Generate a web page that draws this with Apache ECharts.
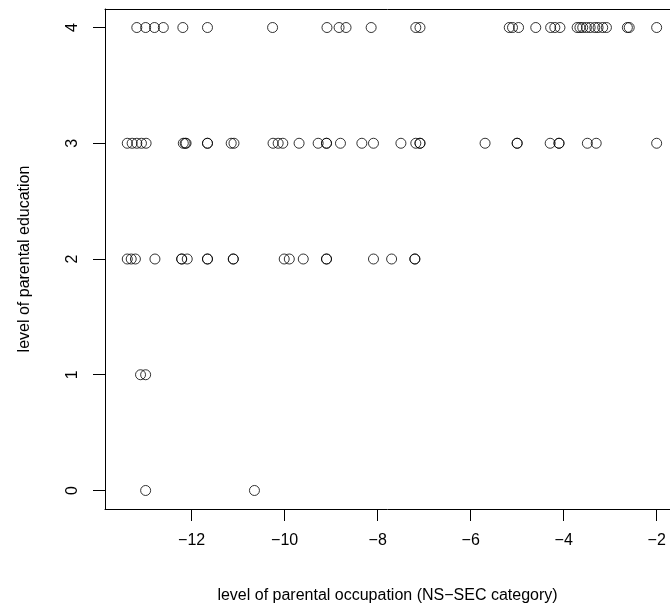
<!DOCTYPE html>
<html>
<head>
<meta charset="utf-8">
<script src="https://cdn.jsdelivr.net/npm/echarts@6/dist/echarts.min.js"></script>
<style>
html,body{margin:0;padding:0;background:#fff;}
#chart{width:670px;height:612px;}
</style>
</head>
<body>
<div id="chart"></div>
<script>
// parental occupation values (NS-SEC, negated) for each level of parental education
var occEdu4 = [-13.18, -12.99, -12.80, -12.61, -12.19, -11.66, -10.26, -9.09, -8.83, -8.68, -8.14,
  -7.18, -7.09, -5.17, -5.10, -4.97, -4.60, -4.28, -4.19, -4.08, -3.71, -3.65, -3.59, -3.51,
  -3.43, -3.33, -3.26, -3.16, -3.08, -2.63, -2.59, -2.00];
var occEdu3 = [-13.385, -13.28, -13.18, -13.08, -12.98, -12.18, -12.14, -12.12, -11.66, -11.66,
  -11.15, -11.09, -10.25, -10.14, -10.04, -9.69, -9.28, -9.10, -9.10, -8.80, -8.34, -8.09, -7.50,
  -7.18, -7.09, -7.09, -5.69, -5.00, -5.00, -4.29, -4.10, -4.10, -3.49, -3.30, -2.00];
var occEdu2 = [-13.385, -13.30, -13.21, -12.79, -12.215, -12.215, -12.095, -11.66, -11.66,
  -11.105, -11.105, -10.01, -9.90, -9.60, -9.10, -9.10, -8.09, -7.70, -7.20, -7.20];
var occEdu1 = [-13.10, -12.99];
var occEdu0 = [-12.99, -10.65];
var eduLevels = [4, 3, 2, 1, 0];
var xTicks = [-12, -10, -8, -6, -4, -2];
var yTicks = [0, 1, 2, 3, 4];
var xTitle = 'level of parental occupation (NS\u2212SEC category)';
var yTitle = 'level of parental education';

var groups = [occEdu4, occEdu3, occEdu2, occEdu1, occEdu0];
var points = [];
groups.forEach(function (arr, i) {
  arr.forEach(function (x) { points.push([x, eduLevels[i]]); });
});

function fmt(v) { return v < 0 ? '\u2212' + Math.abs(v) : String(v); }

var chart = echarts.init(document.getElementById('chart'), null, {renderer: 'canvas'});
var font = '"Liberation Sans", Arial, Helvetica, sans-serif';
var xMin = -13.864, xMax = -1.713;
chart.setOption({
  animation: false,
  grid: {left: 105, top: 9, right: 0, height: 500, show: false},
  xAxis: [{
    type: 'value', min: xMin, max: xMax, position: 'bottom',
    splitLine: {show: false},
    axisLine: {show: true, onZero: false, lineStyle: {color: '#000', width: 1}},
    axisTick: {show: true, length: 12, customValues: xTicks, lineStyle: {color: '#000'}},
    axisLabel: {customValues: xTicks, formatter: fmt, color: '#000', fontSize: 16, fontFamily: font, margin: 24},
    name: xTitle, nameLocation: 'middle', nameGap: 79,
    nameTextStyle: {color: '#000', fontSize: 16, fontFamily: font}
  }, {
    type: 'value', min: xMin, max: xMax, position: 'top',
    splitLine: {show: false},
    axisLine: {show: true, onZero: false, lineStyle: {color: '#000', width: 1}},
    axisTick: {show: false},
    axisLabel: {show: false}
  }],
  yAxis: {
    type: 'value', min: -0.16, max: 4.16,
    splitLine: {show: false},
    axisLine: {show: true, onZero: false, lineStyle: {color: '#000', width: 1}},
    axisTick: {show: true, length: 12, customValues: yTicks, lineStyle: {color: '#000'}},
    axisLabel: {customValues: yTicks, rotate: 90, color: '#000', fontSize: 16, fontFamily: font, margin: 24},
    name: yTitle, nameLocation: 'middle', nameGap: 72, nameRotate: 90,
    nameTextStyle: {color: '#000', fontSize: 16, fontFamily: font}
  },
  series: [{
    type: 'scatter',
    xAxisIndex: 0,
    data: points,
    symbol: 'circle',
    symbolSize: 10,
    itemStyle: {color: 'rgba(0,0,0,0)', borderColor: '#000', borderWidth: 1},
    emphasis: {disabled: true}
  }]
});
</script>
</body>
</html>
